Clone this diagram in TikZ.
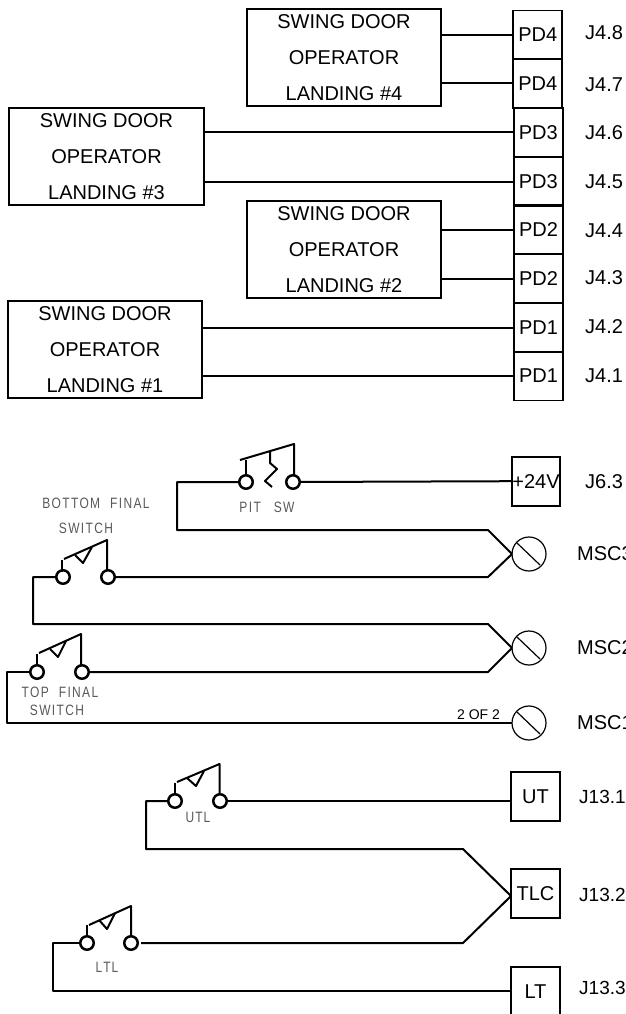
\documentclass[tikz,border=0pt]{standalone}
\usepackage{fontspec}
\setmainfont{Liberation Sans}
\usetikzlibrary{calc,positioning}
\newfontfamily\cadfont[LetterSpace=9,FakeStretch=0.8]{Liberation Sans}
\tikzset{
  wire/.style={line width=2pt,line join=round},
  oper/.style={draw,line width=1.8pt,minimum width=194.5pt,minimum height=97pt,inner sep=0pt,outer sep=0pt,align=center,font=\fontsize{20}{36}\selectfont},
  pin/.style={draw,line width=1.8pt,minimum width=49pt,minimum height=49pt,inner sep=0pt,outer sep=0pt,font=\fontsize{20}{23}\selectfont},
  jlabel/.style={anchor=west,inner sep=0pt,font=\fontsize{20}{23}\selectfont},
  contact/.style={circle,draw,line width=2.5pt,minimum size=13.5pt,inner sep=0pt,outer sep=0pt},
  screw/.style={circle,draw,line width=1.2pt,minimum size=34pt,inner sep=0pt,outer sep=0pt},
  swlabel/.style={inner sep=0pt,text=black!65,font=\cadfont\fontsize{15}{17}\selectfont}
}
\begin{document}
\begin{tikzpicture}[x=1pt,y=-1pt]
       \useasboundingbox (0,0) rectangle (626,1014);
       \node[oper] (L4) at (344,57.3) {SWING DOOR\\OPERATOR\\LANDING \#4};
       \node[oper] (L3) at (106.5,156.5) {SWING DOOR\\OPERATOR\\LANDING \#3};
       \node[oper] (L2) at (344,249.5) {SWING DOOR\\OPERATOR\\LANDING \#2};
       \node[oper] (L1) at (105,349.5) {SWING DOOR\\OPERATOR\\LANDING \#1};
       \node[pin] (P8) at (537.7,35) {PD4};
       \node[pin] (P7) at (537.7,83.5) {PD4};
       \node[pin] (P6) at (538.3,132.5) {PD3};
       \node[pin] (P5) at (538.3,181.5) {PD3};
       \node[pin] (P4) at (538.5,229.5) {PD2};
       \node[pin] (P3) at (538.5,278.5) {PD2};
       \node[pin] (P2) at (538.5,327.5) {PD1};
       \node[pin] (P1) at (538.5,376) {PD1};
       \node[jlabel] (J8) at (585,33) {J4.8};
       \node[jlabel] (J7) at (585,84.5) {J4.7};
       \node[jlabel] (J6) at (585,132.5) {J4.6};
       \node[jlabel] (J5) at (585,182) {J4.5};
       \node[jlabel] (J4) at (585,230.5) {J4.4};
       \node[jlabel] (J3) at (585,278) {J4.3};
       \node[jlabel] (J2) at (585,326.5) {J4.2};
       \node[jlabel] (J1) at (585,376) {J4.1};
       \draw[wire] (P8.west -| L4.east) -- (P8.west);
       \draw[wire] (P7.west -| L4.east) -- (P7.west);
       \draw[wire] (P6.west -| L3.east) -- (P6.west);
       \draw[wire] (P5.west -| L3.east) -- (P5.west);
       \draw[wire] (P4.west -| L2.east) -- (P4.west);
       \draw[wire] (P3.west -| L2.east) -- (P3.west);
       \draw[wire] (P2.west -| L1.east) -- (P2.west);
       \draw[wire] (P1.west -| L1.east) -- (P1.west);
       \node[pin,minimum width=48.5pt] (V) at (536,481.2) {+24V};
       \node[jlabel] (JV) at (585,482) {J6.3};
       \node[screw] (M3) at (529,554) {};
       \node[screw] (M2) at (529,648) {};
       \node[screw] (M1) at (529,723) {};
       \node[jlabel] (T3) at (577,554) {MSC3};
       \node[jlabel] (T2) at (577,648) {MSC2};
       \node[jlabel] (T1) at (577,723) {MSC1};
       \draw[line width=1.2pt] ($(M3)+(-12,-11)$) -- ($(M3)+(11,11)$);
       \draw[line width=1.2pt] ($(M2)+(-12,-11)$) -- ($(M2)+(11,11)$);
       \draw[line width=1.2pt] ($(M1)+(-12,-11)$) -- ($(M1)+(11,11)$);
       \node[contact] (PA) at (246,482) {};
       \node[contact] (PB) at (293,482) {};
       \coordinate (PC) at (177,482);
       \coordinate (PD) at (177,530);
       \coordinate (PE) at (488,530);
       \draw[wire] (PB) -- (V.west);
       \draw[wire] (PA) -- (PC) -- (PD) -- (PE) -- (M3.west);
       \draw[wire] (240,460) -- (294,444) -- (294,476);
       \draw[wire] (245.5,460) -- (245.5,476);
       \draw[wire] (270,451) -- (270,463) -- (277,469) -- (265,481) -- (272,487);
       \node[swlabel] (PL) at (267,507) {PIT\hspace{13pt}SW};
       \node[contact] (BA) at (63,577) {};
       \node[contact] (BB) at (108,577) {};
       \coordinate (BC) at (33,577);
       \coordinate (BD) at (33,624);
       \coordinate (BE) at (488,624);
       \coordinate (BF) at (488,577);
       \draw[wire] (BB) -- (BF) -- (M3.west);
       \draw[wire] (BA) -- (BC) -- (BD) -- (BE) -- (M2.west);
       \draw[wire] (64,559) -- (107,540) -- (107,571);
       \draw[wire] (62,559.5) -- (62,572);
       \draw[wire] (75,555) -- (83,563) -- (92,547);
       \node[swlabel] (BL) at (96,503) {BOTTOM\hspace{10pt}FINAL};
       \node[swlabel] (BS) at (86,528) {SWITCH};
       \node[contact] (TA) at (37,672) {};
       \node[contact] (TB) at (82,672) {};
       \coordinate (TC) at (7,672);
       \coordinate (TD) at (7,723);
       \coordinate (TE) at (488,672);
       \draw[wire] (TB) -- (TE) -- (M2.west);
       \draw[wire] (TA) -- (TC) -- (TD) -- (M1.west);
       \draw[wire] (39,653) -- (81,634) -- (81,666);
       \draw[wire] (36.5,653.5) -- (36.5,666);
       \draw[wire] (50,649) -- (58,657) -- (66,641);
       \node[swlabel] (TL) at (60,692) {TOP\hspace{10pt}FINAL};
       \node[swlabel] (TS) at (57,710) {SWITCH};
       \node[inner sep=0pt,font=\fontsize{14}{16}\selectfont] (N) at (478.5,714.5) {2 OF 2};
       \node[pin] (UT) at (535.5,796.5) {UT};
       \node[pin] (TLC) at (535.5,893.5) {TLC};
       \node[pin] (LT) at (535.5,991.5) {LT};
       \node[jlabel,font=\fontsize{19}{23}\selectfont] (J131) at (579,797) {J13.1};
       \node[jlabel,font=\fontsize{19}{23}\selectfont] (J132) at (579,895) {J13.2};
       \node[jlabel,font=\fontsize{19}{23}\selectfont] (J133) at (579,988) {J13.3};
       \node[contact] (UA) at (175,801) {};
       \node[contact] (UB) at (220,801) {};
       \coordinate (UC) at (146,801);
       \coordinate (UD) at (146,849);
       \coordinate (UE) at (463,849);
       \coordinate (TK) at (511,896);
       \draw[wire] (UB) -- (UB -| UT.west);
       \draw[wire] (UA) -- (UC) -- (UD) -- (UE) -- (TK);
       \draw[wire] (177,782) -- (219.5,764) -- (219.5,795);
       \draw[wire] (175,782.5) -- (175,795);
       \draw[wire] (187,778) -- (196,786) -- (204,771);
       \node[swlabel] (UL) at (198,817) {U\hspace{1pt}T\hspace{1pt}L};
       \node[contact] (DA) at (87,943) {};
       \node[contact] (DB) at (131,943) {};
       \coordinate (DC) at (53,943);
       \coordinate (DD) at (53,991);
       \coordinate (DE) at (141,943);
       \coordinate (DF) at (463,943);
       \draw[wire] (DE) -- (DF) -- (TK);
       \draw[wire] (DA) -- (DC) -- (DD) -- (DD -| LT.west);
       \draw[wire] (89,925) -- (131,906) -- (131,937);
       \draw[wire] (86.5,925) -- (86.5,937);
       \draw[wire] (99,920) -- (107,929) -- (115,913);
       \node[swlabel] (DL) at (107,967) {L\hspace{1pt}T\hspace{1pt}L};
     \end{tikzpicture}
\end{document}
